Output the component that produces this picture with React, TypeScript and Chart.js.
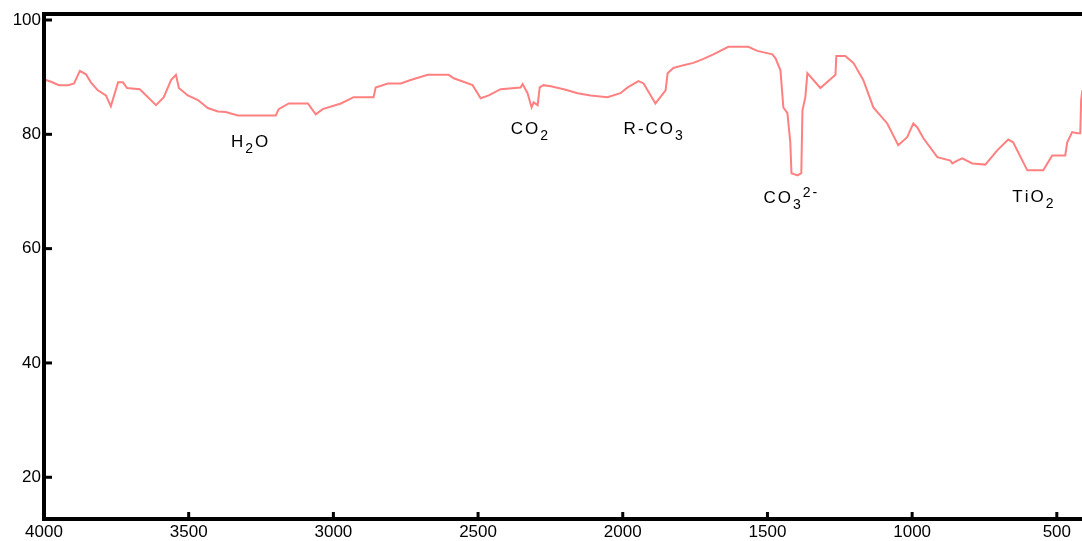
import React, { useEffect, useRef } from "react";
import { Chart, registerables } from "chart.js";

Chart.register(...registerables);

// Wavenumber (cm-1) and transmittance (%)
const wavenumbers = [
  3998, 3976, 3948, 3917, 3896, 3876, 3855, 3838, 3814, 3786, 3769, 3744, 3727, 3713, 3669,
  3613, 3586, 3561, 3544, 3534, 3503, 3468, 3434, 3399, 3372, 3330, 3199, 3189, 3154, 3088,
  3061, 3037, 2974, 2930, 2861, 2854, 2812, 2767, 2733, 2674, 2602, 2584, 2519, 2491, 2463,
  2422, 2353, 2346, 2329, 2315, 2308, 2294, 2287, 2274, 2249, 2204, 2156, 2111, 2053, 2008,
  1983, 1946, 1928, 1887, 1852, 1845, 1825, 1790, 1756, 1721, 1687, 1635, 1566, 1535, 1483,
  1472, 1455, 1445, 1431, 1421, 1417, 1396, 1383, 1379, 1369, 1362, 1317, 1265, 1262, 1231,
  1203, 1169, 1134, 1086, 1048, 1017, 996, 982, 961, 913, 868, 861, 844, 827, 792,
  747, 706, 668, 651, 602, 547, 516, 471, 464, 447, 430, 419, 416, 412,
];
const transmittance = [
  89.6, 89.2, 88.6, 88.6, 88.9, 91.1, 90.5, 89.1, 87.7, 86.8, 84.9, 89.1, 89.1, 88.1, 87.9,
  85.1, 86.5, 89.5, 90.4, 88.1, 86.8, 86.0, 84.6, 84.0, 83.9, 83.3, 83.3, 84.4, 85.4, 85.4,
  83.5, 84.4, 85.4, 86.5, 86.5, 88.2, 88.9, 88.9, 89.5, 90.4, 90.4, 89.8, 88.6, 86.3, 86.8,
  87.9, 88.2, 88.8, 87.2, 84.7, 85.6, 85.1, 88.2, 88.6, 88.4, 87.9, 87.2, 86.8, 86.5, 87.2,
  88.2, 89.3, 88.9, 85.4, 87.7, 90.7, 91.6, 92.1, 92.5, 93.2, 94.0, 95.3, 95.3, 94.6, 94.0,
  93.3, 91.2, 84.7, 83.7, 78.6, 73.2, 72.8, 73.2, 84.2, 86.5, 90.7, 88.1, 90.4, 93.7, 93.7,
  92.5, 89.5, 84.7, 81.9, 78.1, 79.5, 81.9, 81.2, 79.3, 76.0, 75.4, 74.9, 75.4, 75.8, 74.9,
  74.7, 77.2, 79.1, 78.6, 73.7, 73.7, 76.3, 76.3, 78.6, 80.4, 80.2, 80.2, 86.0, 87.7,
];

const xTicks = [500, 1000, 1500, 2000, 2500, 3000, 3500, 4000];
const yTicks = [20, 40, 60, 80, 100];

// Peak annotations ("_" = next char subscript, "^" = rest superscript)
const annotationLabels = ["H_2O", "CO_2", "R-CO_3", "CO_3^2-", "TiO_2"];
const annotationWavenumbers = [3354, 2387, 1997, 1514, 654];
const annotationTransmittance = [77.7, 80.0, 80.0, 67.9, 68.1];

const FONT = "'Liberation Sans', Arial, sans-serif";

function drawRich(ctx: CanvasRenderingContext2D, text: string, x0: number, y0: number) {
  let x = x0;
  const spacing = 2;
  const part = (s: string, kind: "n" | "sub" | "sup") => {
    const size = kind === "n" ? 17 : 14;
    const dy = kind === "sub" ? 6 : kind === "sup" ? -6 : 0;
    ctx.font = `${size}px ${FONT}`;
    for (const ch of s) {
      ctx.fillText(ch, x, y0 + dy);
      x += ctx.measureText(ch).width + spacing;
    }
  };
  let i = 0;
  while (i < text.length) {
    const c = text[i];
    if (c === "_") {
      part(text[i + 1], "sub");
      i += 2;
    } else if (c === "^") {
      part(text.slice(i + 1), "sup");
      break;
    } else {
      part(c, "n");
      i += 1;
    }
  }
}

const decorPlugin = {
  id: "decor",
  afterDraw(chart: any) {
    const { ctx, chartArea, scales } = chart;
    const xs = scales.x;
    const ys = scales.y;
    ctx.save();
    ctx.strokeStyle = "#000";
    ctx.lineWidth = 4;
    ctx.lineJoin = "miter";
    ctx.beginPath();
    ctx.moveTo(chartArea.right + 4, chartArea.top);
    ctx.lineTo(chartArea.left, chartArea.top);
    ctx.lineTo(chartArea.left, chartArea.bottom);
    ctx.lineTo(chartArea.right + 4, chartArea.bottom);
    ctx.stroke();

    ctx.lineWidth = 3;
    yTicks.forEach((v) => {
      const py = ys.getPixelForValue(v);
      ctx.beginPath();
      ctx.moveTo(chartArea.left, py);
      ctx.lineTo(chartArea.left + 8, py);
      ctx.stroke();
    });
    xTicks.forEach((v) => {
      const px = xs.getPixelForValue(v);
      ctx.beginPath();
      ctx.moveTo(px, chartArea.bottom);
      ctx.lineTo(px, chartArea.bottom - 7);
      ctx.stroke();
    });

    ctx.fillStyle = "#000";
    ctx.textBaseline = "alphabetic";
    ctx.textAlign = "left";
    annotationLabels.forEach((label, i) => {
      const px = xs.getPixelForValue(annotationWavenumbers[i]);
      const py = ys.getPixelForValue(annotationTransmittance[i]);
      drawRich(ctx, label, px, py);
    });
    ctx.restore();
  },
};

export default function App() {
  const ref = useRef<HTMLCanvasElement | null>(null);

  useEffect(() => {
    if (!ref.current) return;
    const chart = new Chart(ref.current, {
      type: "line",
      data: {
        datasets: [
          {
            data: wavenumbers.map((w, i) => ({ x: w, y: transmittance[i] })),
            borderColor: "rgb(255,128,128)",
            borderWidth: 2,
            pointRadius: 0,
            tension: 0,
            fill: false,
          },
        ],
      },
      options: {
        animation: false,
        responsive: false,
        maintainAspectRatio: false,
        devicePixelRatio: 1,
        layout: { padding: { top: 14, right: 0, left: 0, bottom: 0 } },
        plugins: { legend: { display: false }, tooltip: { enabled: false } },
        scales: {
          x: {
            type: "linear",
            reverse: true,
            min: 413,
            max: 4000,
            grid: { display: false, drawTicks: false, tickLength: 0 },
            border: { display: false },
            afterBuildTicks: (scale: any) => {
              scale.ticks = xTicks.map((v) => ({ value: v }));
            },
            afterFit: (scale: any) => {
              scale.height = 22;
            },
            ticks: {
              padding: 3,
              color: "#000",
              maxRotation: 0,
              autoSkip: false,
              font: { family: FONT, size: 17 },
              callback: (v: any) => String(v),
            },
          },
          y: {
            type: "linear",
            min: 12.7,
            max: 101.05,
            grid: { display: false, drawTicks: false, tickLength: 0 },
            border: { display: false },
            afterBuildTicks: (scale: any) => {
              scale.ticks = yTicks.map((v) => ({ value: v }));
            },
            afterFit: (scale: any) => {
              scale.width = 44;
            },
            ticks: {
              padding: 3,
              color: "#000",
              font: { family: FONT, size: 17 },
              callback: (v: any) => String(v),
            },
          },
        },
      },
      plugins: [decorPlugin],
    });
    return () => chart.destroy();
  }, []);

  return (
    <div style={{ position: "absolute", left: 0, top: 0, width: 1082, height: 541, background: "#fff" }}>
      <canvas ref={ref} width={1082} height={541} style={{ display: "block" }} />
    </div>
  );
}
